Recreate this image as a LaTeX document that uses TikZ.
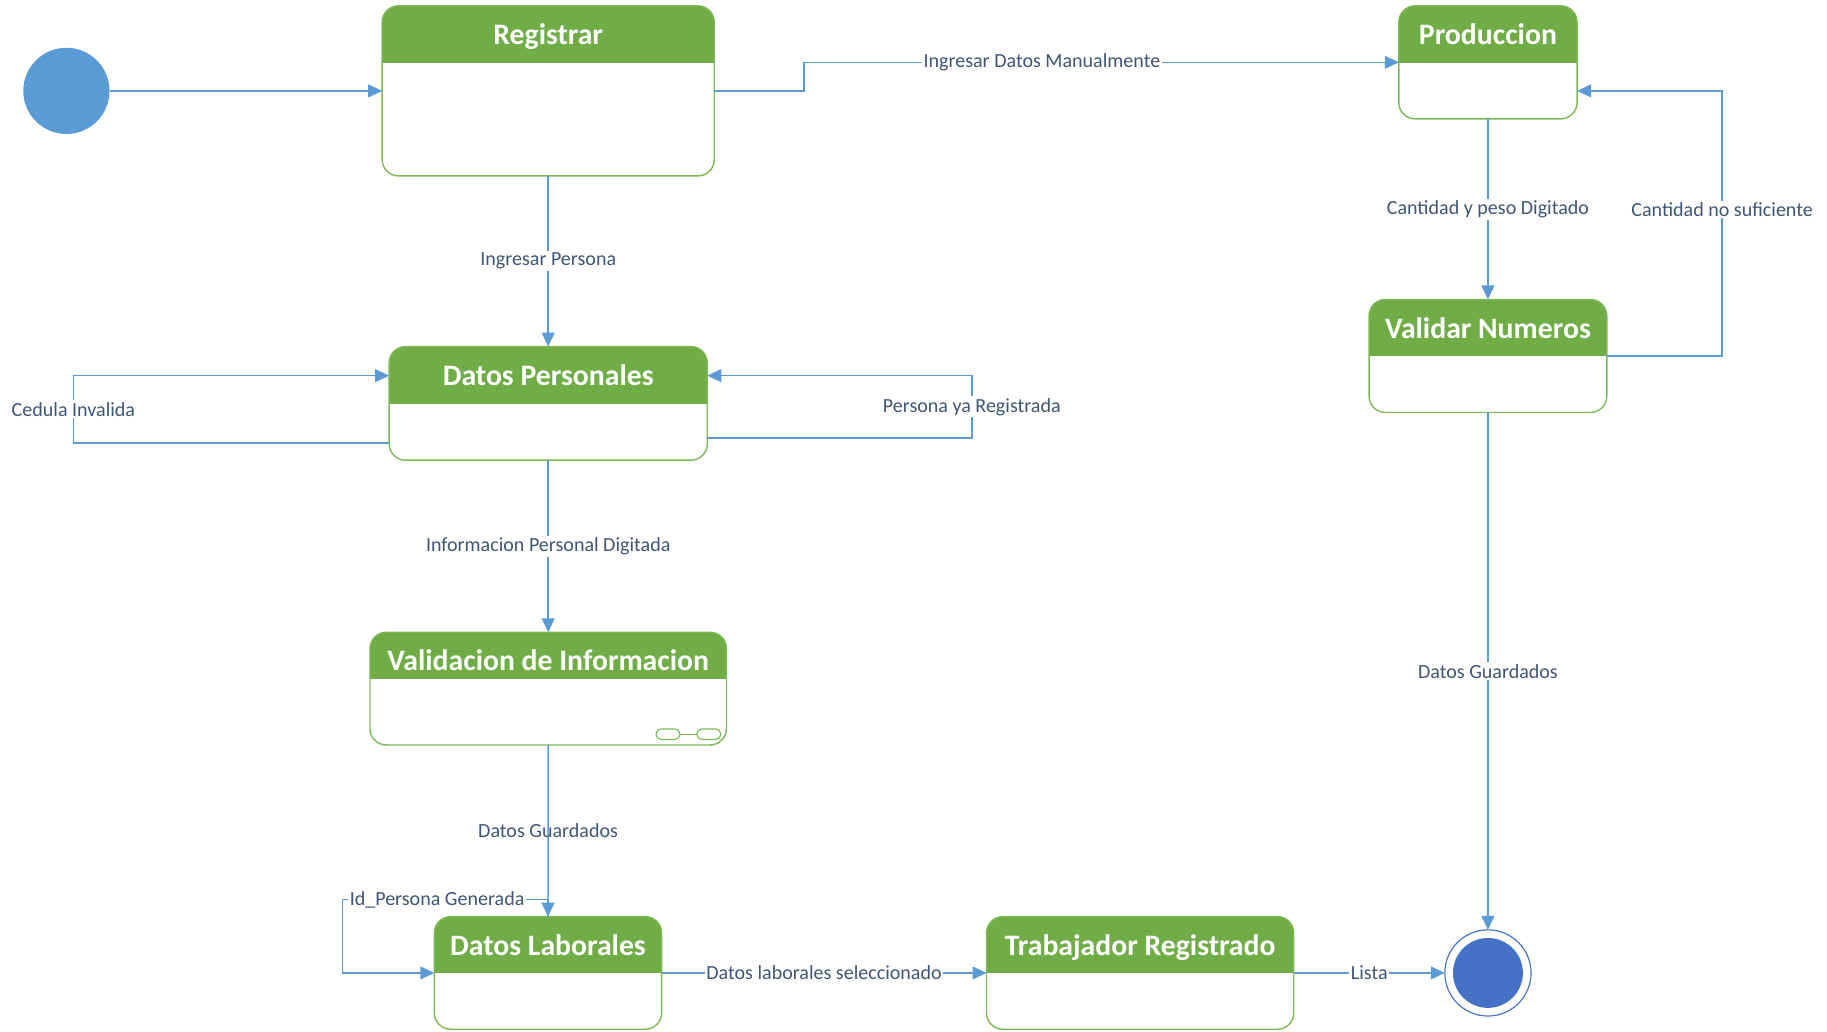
\documentclass[tikz,border=0pt]{standalone}
\usepackage{fontspec}
\setmainfont{Carlito}
\usetikzlibrary{arrows.meta}

\definecolor{hdrgreen}{HTML}{70AD47}
\definecolor{edgegreen}{HTML}{7DB957}
\definecolor{flowblue}{HTML}{5B9BD5}
\definecolor{endblue}{HTML}{4472C4}
\definecolor{lbltext}{RGB}{62,86,118}

\tikzset{
  statebox/.style n args={3}{draw=edgegreen, line width=1.2pt, rounded corners=14pt,
    fill=white, inner sep=0pt, outer sep=0pt, minimum width=#1pt, minimum height=#2pt,
    path picture={\fill[hdrgreen, sharp corners] (path picture bounding box.north west)
      rectangle ([yshift=-#3pt]path picture bounding box.north east);}},
  title/.style={anchor=base, text=white, font=\fontsize{25.5}{30}\selectfont\bfseries, inner sep=0pt},
  flow/.style={draw=flowblue, line width=1.3pt, -{Triangle[length=12pt,width=11pt]}},
  lbl/.style={fill=white, text=lbltext, font=\fontsize{17.2}{20}\selectfont, inner sep=1.5pt},
  pill/.style={draw=edgegreen, line width=1pt, rounded corners=4.4pt},
}

\begin{document}
\begin{tikzpicture}[x=1pt, y=-1pt]
\useasboundingbox (0,0) rectangle (1568,885);

% initial and final pseudo-states
\node[circle, fill=flowblue, minimum size=74pt, inner sep=0pt, outer sep=0pt] (start) at (57,78) {};
\node[circle, draw=endblue, line width=1pt, minimum size=74pt, inner sep=0pt, outer sep=0pt] (end) at (1277,835) {};
\node[circle, fill=endblue, minimum size=60pt, inner sep=0pt] (endcore) at (end.center) {};

% states
\node[statebox={285}{146}{49}] (reg) at (470.5,78) {};
\node[title] (regT) at ([yshift=-33.5pt]reg.north) {Registrar};

\node[statebox={153}{97}{49}] (prod) at (1277,53.5) {};
\node[title] (prodT) at ([yshift=-33.5pt]prod.north) {Produccion};

\node[statebox={204}{97}{48.6}] (val) at (1277,305.5) {};
\node[title] (valT) at ([yshift=-33.5pt]val.north) {Validar Numeros};

\node[statebox={273}{97.5}{49}] (dp) at (470.5,346.2) {};
\node[title] (dpT) at ([yshift=-33.5pt]dp.north) {Datos Personales};

\node[statebox={306}{96.7}{40.3}] (vi) at (470.5,591) {};
\node[title] (viT) at ([yshift=-33pt]vi.north) {Validacion de Informacion};
% composite-state marker
\draw[pill] (563,625.6) rectangle (583.6,634.6);
\draw[pill] (598,625.6) rectangle (618.6,634.6);
\draw[draw=edgegreen, line width=1pt] (583.6,630.1) -- (598,630.1);

\node[statebox={195}{96.6}{48.6}] (dl) at (470.3,835) {};
\node[title] (dlT) at ([yshift=-33.5pt]dl.north) {Datos Laborales};

\node[statebox={263.7}{96.6}{48.6}] (tr) at (978.5,835) {};
\node[title] (trT) at ([yshift=-33.5pt]tr.north) {Trabajador Registrado};

% transitions
\draw[flow] (start) -- (reg);

\draw[flow] (reg.east) -- (690,78) -- (690,53.5)
  -- node[lbl, pos=0.4] (l1) {Ingresar Datos Manualmente} (prod.west);

\draw[flow] (prod) -- node[lbl] (l2) {Cantidad y peso Digitado} (val);

\draw[flow] (val.east) -- (1478,305.5)
  -- node[lbl, pos=0.553] (l3) {Cantidad no suficiente} (1478,78)
  -- (prod.east |- 0,78);

\draw[flow] (reg) -- node[lbl] (l4) {Ingresar Persona} (dp);

\draw[flow] (dp.west |- 0,380) -- (63,380)
  -- node[lbl] (l5) {Cedula Invalida} (63,322.4)
  -- (dp.west |- 0,322.4);

\draw[flow] (dp.east |- 0,376) -- (834,376)
  -- node[lbl] (l6) {Persona ya Registrada} (834,322.4)
  -- (dp.east |- 0,322.4);

\draw[flow] (dp) -- node[lbl] (l7) {Informacion Personal Digitada} (vi);

\draw[flow] (vi) -- node[lbl, fill=none] (l8) {Datos Guardados} (dl);

\draw[flow] (dl.north) -- (470.3,772)
  -- node[lbl, pos=0.54] (l9) {Id\_Persona Generada} (294,772)
  -- (294,835) -- (dl.west);

\draw[flow] (dl) -- node[lbl] (l10) {Datos laborales seleccionado} (tr);

\draw[flow] (tr) -- node[lbl] (l11) {Lista} (end);

\draw[flow] (val) -- node[lbl] (l12) {Datos Guardados} (end);
\end{tikzpicture}
\end{document}
